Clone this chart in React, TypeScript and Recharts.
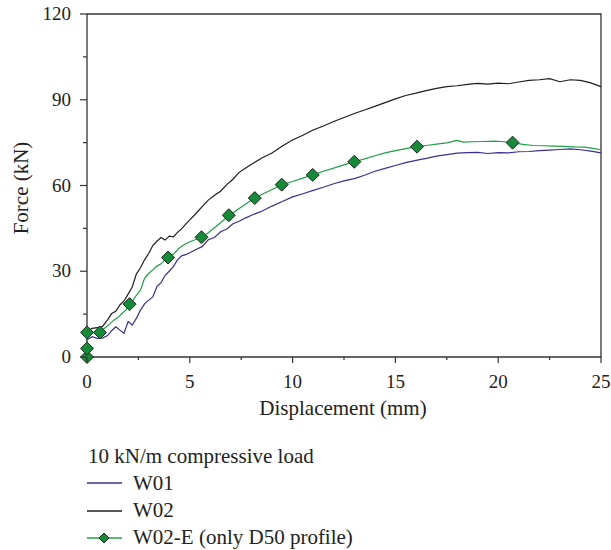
import React from "react";
import { ComposedChart, Line, XAxis, YAxis, ReferenceArea } from "recharts";

const xTicks = [0, 2.5, 5, 7.5, 10, 12.5, 15, 17.5, 20, 22.5, 25];
const xMajor = [0, 5, 10, 15, 20, 25];
const yTicks = [0, 15, 30, 45, 60, 75, 90, 105, 120];
const yMajor = [0, 30, 60, 90, 120];

const w01X = [0, 0.25, 0.5, 0.75, 1.0, 1.2, 1.4, 1.6, 1.8, 2.0, 2.2, 2.4, 2.6, 2.8, 3.0, 3.2, 3.4, 3.6, 3.8, 4.0, 4.2, 4.4, 4.6, 4.8, 5.0, 5.3, 5.6, 5.9, 6.2, 6.5, 6.8, 7.1, 7.4, 7.7, 8.0, 8.5, 9.0, 9.5, 10.0, 10.5, 11.0, 11.5, 12.0, 12.5, 13.0, 13.5, 14.0, 14.5, 15.0, 15.5, 16.0, 16.5, 17.0, 17.5, 18.0, 18.5, 19.0, 19.5, 20.0, 20.5, 21.0, 21.5, 22.0, 22.5, 23.0, 23.5, 24.0, 24.5, 25.0];
const w01Y = [6.0, 7.1, 6.5, 6.6, 7.5, 9.2, 10.6, 9.4, 8.3, 12.4, 11.2, 13.5, 16.4, 18.6, 19.9, 21.0, 24.6, 26.0, 28.6, 30.0, 31.6, 34.0, 35.4, 35.8, 36.5, 37.6, 38.6, 41.0, 41.8, 43.8, 44.8, 46.6, 47.5, 48.6, 49.6, 51.0, 52.8, 54.4, 56.0, 57.1, 58.3, 59.4, 60.6, 61.6, 62.4, 63.6, 65.0, 66.0, 67.0, 68.0, 68.8, 69.5, 70.3, 70.8, 71.3, 71.5, 71.6, 71.2, 71.5, 71.4, 71.8, 71.9, 72.2, 72.4, 72.6, 72.8, 72.5, 72.0, 71.4];

const w02X = [0, 0.25, 0.5, 0.75, 1.0, 1.2, 1.4, 1.6, 1.8, 2.0, 2.2, 2.4, 2.6, 2.8, 3.0, 3.2, 3.4, 3.6, 3.8, 4.0, 4.2, 4.4, 4.6, 4.8, 5.0, 5.3, 5.6, 5.9, 6.2, 6.5, 6.8, 7.1, 7.4, 7.7, 8.0, 8.5, 9.0, 9.5, 10.0, 10.5, 11.0, 11.5, 12.0, 12.5, 13.0, 13.5, 14.0, 14.5, 15.0, 15.5, 16.0, 16.5, 17.0, 17.5, 18.0, 18.5, 19.0, 19.5, 20.0, 20.5, 21.0, 21.5, 22.0, 22.5, 23.0, 23.5, 24.0, 24.5, 25.0];
const w02Y = [9.0, 10.0, 10.3, 10.6, 13.0, 15.2, 16.0, 18.2, 19.6, 22.0, 24.5, 29.0, 31.2, 34.0, 36.2, 39.0, 40.5, 41.8, 40.9, 42.3, 42.0, 43.6, 44.8, 46.5, 48.0, 50.2, 52.6, 54.9, 56.6, 58.0, 60.3, 62.2, 64.6, 66.0, 67.4, 69.6, 71.4, 73.8, 75.9, 77.6, 79.4, 80.8, 82.4, 83.8, 85.2, 86.4, 87.7, 89.0, 90.3, 91.5, 92.3, 93.2, 94.0, 94.6, 94.9, 95.4, 95.7, 95.5, 95.8, 95.6, 96.2, 96.8, 97.0, 97.4, 96.3, 97.0, 96.8, 95.9, 94.6];

const w02eX = [0, 0, 0, 0.3, 0.6, 0.9, 1.1, 1.3, 1.5, 1.7, 1.9, 2.05, 2.2, 2.4, 2.6, 2.8, 3.0, 3.2, 3.4, 3.6, 3.9, 4.2, 4.5, 4.8, 5.1, 5.56, 5.9, 6.2, 6.6, 6.93, 7.3, 7.7, 8.15, 8.6, 9.0, 9.46, 10.0, 10.5, 10.98, 11.5, 12.0, 12.5, 13.0, 13.5, 14.0, 14.5, 15.0, 15.5, 16.05, 16.5, 17.0, 17.5, 18.0, 18.3, 18.8, 19.3, 19.8, 20.3, 20.7, 21.2, 21.7, 22.2, 22.7, 23.2, 23.7, 24.2, 24.6, 25.0];
const w02eY = [0, 3, 8.5, 8.6, 8.6, 10.3, 11.5, 12.9, 13.8, 15.2, 16.5, 18.5, 19.4, 21.6, 23.4, 27.5, 29.2, 30.5, 31.8, 32.6, 34.8, 35.9, 38.2, 39.6, 40.6, 41.9, 43.5, 45.2, 47.6, 49.6, 51.4, 53.4, 55.6, 57.2, 58.6, 60.2, 61.4, 62.6, 63.7, 65.0, 66.1, 67.2, 68.3, 69.3, 70.4, 71.4, 72.2, 72.9, 73.6, 74.0, 74.5, 74.9, 75.8, 75.2, 75.3, 75.4, 75.5, 75.3, 75.0, 74.4, 74.0, 73.9, 73.8, 73.7, 73.5, 73.4, 73.0, 72.5];

const markerX = [0, 0, 0, 0.63, 2.07, 3.94, 5.57, 6.9, 8.16, 9.47, 10.98, 13.0, 16.05, 20.7];
const markerY = [0, 3, 8.6, 8.6, 18.5, 34.8, 41.9, 49.6, 55.6, 60.3, 63.7, 68.3, 73.6, 75.0];

const zip = (xs: number[], ys: number[]) => xs.map((x, i) => ({ x, y: ys[i] }));
const w01Data = zip(w01X, w01Y);
const w02Data = zip(w02X, w02Y);
const w02eData = zip(w02eX, w02eY);
const markerData = zip(markerX, markerY);

const BLUE = "#3b2f92";
const BLACK = "#1e1e1e";
const GREEN = "#1fa046";
const MFILL = "#178a3a";
const AXIS = "#333";
const FONT = "'Liberation Serif', 'DejaVu Serif', serif";

const XTick = (props: any) => {
  const { x, y, payload } = props;
  const major = xMajor.includes(payload.value);
  return (
    <g>
      <line x1={x} x2={x} y1={y} y2={y + (major ? 6 : 3)} stroke={AXIS} strokeWidth={1.2} />
      {major && (
        <text x={x} y={y + 31} textAnchor="middle" fontFamily={FONT} fontSize={19} fill="#222">
          {payload.value}
        </text>
      )}
    </g>
  );
};

const YTick = (props: any) => {
  const { x, y, payload } = props;
  const major = yMajor.includes(payload.value);
  return (
    <g>
      <line x1={x - (major ? 7 : 4)} x2={x} y1={y} y2={y} stroke={AXIS} strokeWidth={1.2} />
      {major && (
        <text x={x - 16} y={y + 6} textAnchor="end" fontFamily={FONT} fontSize={19} fill="#222">
          {payload.value}
        </text>
      )}
    </g>
  );
};

const Diamond = (props: any) => {
  const { cx, cy } = props;
  if (cx == null || cy == null) return null;
  const r = 6.5;
  return (
    <path
      d={`M${cx},${cy - r}L${cx + r},${cy}L${cx},${cy + r}L${cx - r},${cy}Z`}
      fill={MFILL}
      stroke="#1d2a1f"
      strokeWidth={1}
    />
  );
};

export default function App() {
  return (
    <div style={{ position: "absolute", left: 0, top: 0, width: 611, height: 550, background: "#fff" }}>
      <ComposedChart width={611} height={420} margin={{ top: 14, right: 10, bottom: 0, left: 0 }}>
        <XAxis
          dataKey="x"
          type="number"
          domain={[0, 25]}
          ticks={xTicks}
          interval={0}
          tick={<XTick />}
          tickSize={0}
          tickMargin={0}
          axisLine={false}
          height={63}
        />
        <YAxis
          dataKey="y"
          type="number"
          domain={[0, 120]}
          ticks={yTicks}
          interval={0}
          tick={<YTick />}
          tickSize={0}
          tickMargin={0}
          axisLine={false}
          width={87}
        />
        <ReferenceArea x1={0} x2={25} y1={0} y2={120} fill="none" stroke={AXIS} strokeWidth={1.3} ifOverflow="visible" />
        <Line data={w01Data} dataKey="y" stroke={BLUE} strokeWidth={1.2} dot={false} isAnimationActive={false} />
        <Line data={w02Data} dataKey="y" stroke={BLACK} strokeWidth={1.2} dot={false} isAnimationActive={false} />
        <Line data={w02eData} dataKey="y" stroke={GREEN} strokeWidth={1.2} dot={false} isAnimationActive={false} />
        <Line data={markerData} dataKey="y" stroke="none" dot={<Diamond />} activeDot={false} isAnimationActive={false} />
      </ComposedChart>
      <svg width={611} height={550} style={{ position: "absolute", left: 0, top: 0, pointerEvents: "none" }}>
        <text x={343} y={415} textAnchor="middle" fontFamily={FONT} fontSize={21} fill="#222">
          Displacement (mm)
        </text>
        <text
          x={0}
          y={0}
          transform="translate(28,188) rotate(-90)"
          textAnchor="middle"
          fontFamily={FONT}
          fontSize={21}
          fill="#222"
        >
          Force (kN)
        </text>
        <text x={88} y={463} fontFamily={FONT} fontSize={21} fill="#222">
          10 kN/m compressive load
        </text>
        <line x1={87} x2={122} y1={483} y2={483} stroke={BLUE} strokeWidth={1.3} />
        <text x={133} y={490} fontFamily={FONT} fontSize={21} fill="#222">W01</text>
        <line x1={87} x2={122} y1={511} y2={511} stroke={BLACK} strokeWidth={1.3} />
        <text x={133} y={517} fontFamily={FONT} fontSize={21} fill="#222">W02</text>
        <line x1={87} x2={122} y1={538} y2={538} stroke={GREEN} strokeWidth={1.3} />
        <path d="M104,533L109,538L104,543L99,538Z" fill={MFILL} stroke="#1d2a1f" strokeWidth={1} />
        <text x={133} y={544} fontFamily={FONT} fontSize={21} fill="#222">W02-E (only D50 profile)</text>
      </svg>
    </div>
  );
}
